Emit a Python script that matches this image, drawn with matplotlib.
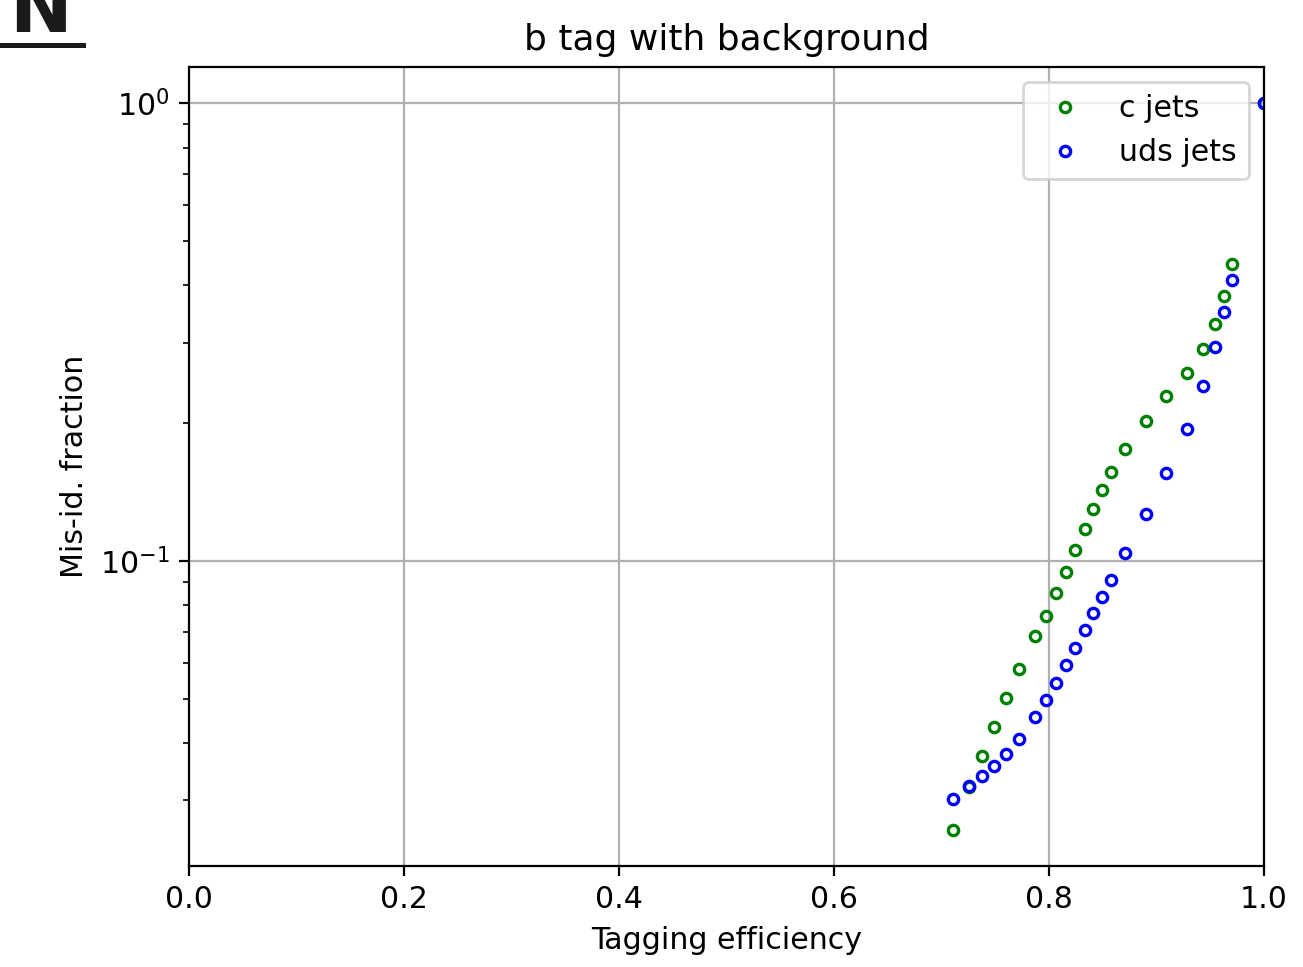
import matplotlib
matplotlib.use("Agg")
import matplotlib.pyplot as plt
from matplotlib.lines import Line2D

# Tagging efficiency (shared x for both series)
efficiency = [0.7107, 0.7259, 0.7380, 0.7493, 0.7603, 0.7721, 0.7870, 0.7969,
              0.8065, 0.8155, 0.8245, 0.8332, 0.8412, 0.8493, 0.8575, 0.8710,
              0.8902, 0.9088, 0.9281, 0.9430, 0.9542, 0.9628, 0.9702, 1.0]

c_jets = [0.02590, 0.03208, 0.03747, 0.04348, 0.05029, 0.05816, 0.06875, 0.07599,
          0.08517, 0.09478, 0.1058, 0.1178, 0.1302, 0.1430, 0.1568, 0.1756,
          0.2025, 0.2291, 0.2581, 0.2906, 0.3300, 0.3803, 0.4452, 1.0]

uds_jets = [0.03026, 0.03219, 0.03390, 0.03576, 0.03792, 0.04080, 0.04556, 0.04971,
            0.05415, 0.05926, 0.06473, 0.07073, 0.07716, 0.08358, 0.09078, 0.1041,
            0.1268, 0.1557, 0.1942, 0.2417, 0.2935, 0.3500, 0.4109, 1.0]

plt.rcParams['font.size'] = 10.8

fig = plt.figure(figsize=(13.03 / 2, 9.67 / 2), dpi=200)
ax = fig.add_axes([189 / 1303, 1 - 866 / 967, (1264 - 189) / 1303, (866 - 67) / 967])

ax.plot(efficiency, c_jets, 'o', mfc='none', mec='g', ms=3.7, mew=1.2, label='c jets')
ax.plot(efficiency, uds_jets, 'o', mfc='none', mec='b', ms=3.7, mew=1.2, label='uds jets')
ax.set_yscale('log')
ax.set_xlim(0, 1)
ax.grid(True)
ax.set_title('b tag with background')
ax.set_xlabel('Tagging efficiency')
ax.set_ylabel('Mis-id. fraction')
ax.legend(loc='upper right')

# cropped heading fragment at top-left
fig.text(9 / 1303, 1 - 32 / 967, 'N', fontsize=27, fontweight='bold',
         color='#1a1a1a', ha='left', va='baseline')
fig.add_artist(Line2D([0, 83 / 1303], [1 - 44.5 / 967, 1 - 44.5 / 967],
                      color='#1a1a1a', lw=1.8, transform=fig.transFigure))

fig.savefig('out.png', dpi=200)
